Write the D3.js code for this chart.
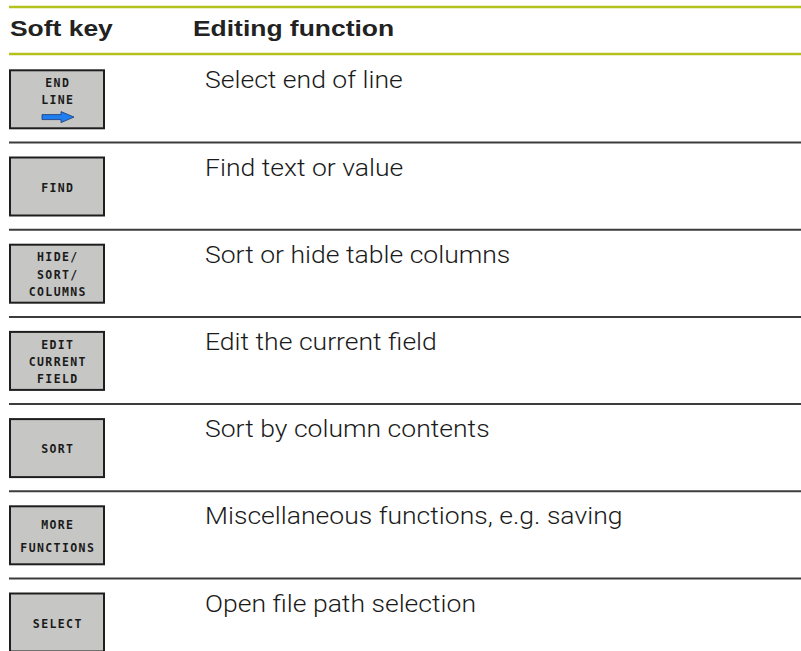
<!DOCTYPE html>
<html>
<head>
<meta charset="utf-8">
<script src="https://cdn.jsdelivr.net/npm/d3@7"></script>
<style>
  html, body { margin: 0; padding: 0; background: #ffffff; }
  svg { display: block; }
</style>
</head>
<body>
<svg id="chart" width="801" height="651"></svg>
<script>
// ---- data ----
const headers = ["Soft key", "Editing function"];
const keyLabels = [
  ["END", "LINE"],
  ["FIND"],
  ["HIDE/", "SORT/", "COLUMNS"],
  ["EDIT", "CURRENT", "FIELD"],
  ["SORT"],
  ["MORE", "FUNCTIONS"],
  ["SELECT"]
];
const keyIcons = ["arrow", null, null, null, null, null, null];
const functions = [
  "Select end of line",
  "Find text or value",
  "Sort or hide table columns",
  "Edit the current field",
  "Sort by column contents",
  "Miscellaneous functions, e.g. saving",
  "Open file path selection"
];

// ---- layout ----
const W = 801, H = 651;
const svg = d3.select("#chart");
const green = "#b6c21c";
const rowH = 87.2;
const top0 = 55.8;
const y = d3.scaleBand()
  .domain(d3.range(functions.length))
  .range([top0, top0 + rowH * functions.length])
  .padding(0);
const col = d3.scaleOrdinal().domain(headers).range([10, 193]);

// header lines
svg.append("line").attr("x1", 9).attr("x2", W).attr("y1", 7).attr("y2", 7)
  .attr("stroke", green).attr("stroke-width", 2.5);
svg.append("line").attr("x1", 9).attr("x2", W).attr("y1", 54).attr("y2", 54)
  .attr("stroke", green).attr("stroke-width", 2.5);

svg.selectAll("text.hdr").data(headers).enter().append("text")
  .attr("class", "hdr")
  .attr("transform", d => `translate(${col(d)},36) scale(1.23,1)`)
  .attr("font-family", "'Liberation Sans', Arial, sans-serif")
  .attr("font-weight", "bold").attr("font-size", 21.5)
  .attr("fill", "#222")
  .text(d => d);

const rows = svg.selectAll("g.row").data(functions).enter().append("g")
  .attr("class", "row")
  .attr("transform", (d, i) => `translate(0,${y(i)})`);

// separators (between rows)
rows.filter((d, i) => i > 0).append("line")
  .attr("x1", 9).attr("x2", W).attr("y1", -0.5).attr("y2", -0.5)
  .attr("stroke", "#3c3c3c").attr("stroke-width", 2);

// buttons
const bx = 9, bw = 96, bh = 60, btop = 13.5;
rows.append("rect")
  .attr("x", bx + 1).attr("y", btop + 1).attr("width", bw - 2).attr("height", bh - 2)
  .attr("fill", "#c6c6c4").attr("stroke", "#1e1e1e").attr("stroke-width", 2);

rows.each(function(d, i) {
  const g = d3.select(this);
  const lines = keyLabels[i].slice();
  const n = lines.length + (keyIcons[i] ? 1 : 0);
  const gap = n === 2 ? 22.5 : 17.3;
  const cy = btop + bh / 2;
  const first = cy + 5 - gap * (n - 1) / 2;
  g.selectAll("text.key").data(lines).enter().append("text")
    .attr("class", "key")
    .attr("x", bx + bw / 2 + 0.8)
    .attr("y", (t, j) => first + j * gap)
    .attr("text-anchor", "middle")
    .attr("font-family", "'DejaVu Sans Mono', monospace")
    .attr("font-weight", "bold").attr("font-size", 11.5)
    .attr("letter-spacing", 1.4)
    .attr("fill", "#1a1a1a")
    .text(t => t);
  if (keyIcons[i] === "arrow") {
    const ay = first + lines.length * gap - 4.5;
    const ax = bx + bw / 2;
    const p = d3.path();
    p.moveTo(ax - 15, ay - 2.5);
    p.lineTo(ax + 4, ay - 2.5);
    p.lineTo(ax + 4, ay - 5.5);
    p.lineTo(ax + 17, ay);
    p.lineTo(ax + 4, ay + 5.5);
    p.lineTo(ax + 4, ay + 2.5);
    p.lineTo(ax - 15, ay + 2.5);
    p.closePath();
    g.append("path").attr("d", p.toString())
      .attr("fill", "#1f7ff0").attr("stroke", "#1a3a78").attr("stroke-width", 0.8);
  }
});

// descriptions
rows.append("text")
  .attr("transform", "translate(205,32.5) scale(1.13,1)")
  .attr("font-family", "Roboto, 'Liberation Sans', sans-serif")
  .attr("font-weight", 300).attr("font-size", 23.5)
  .attr("fill", "#1a1a1a")
  .text(d => d);
</script>
</body>
</html>
